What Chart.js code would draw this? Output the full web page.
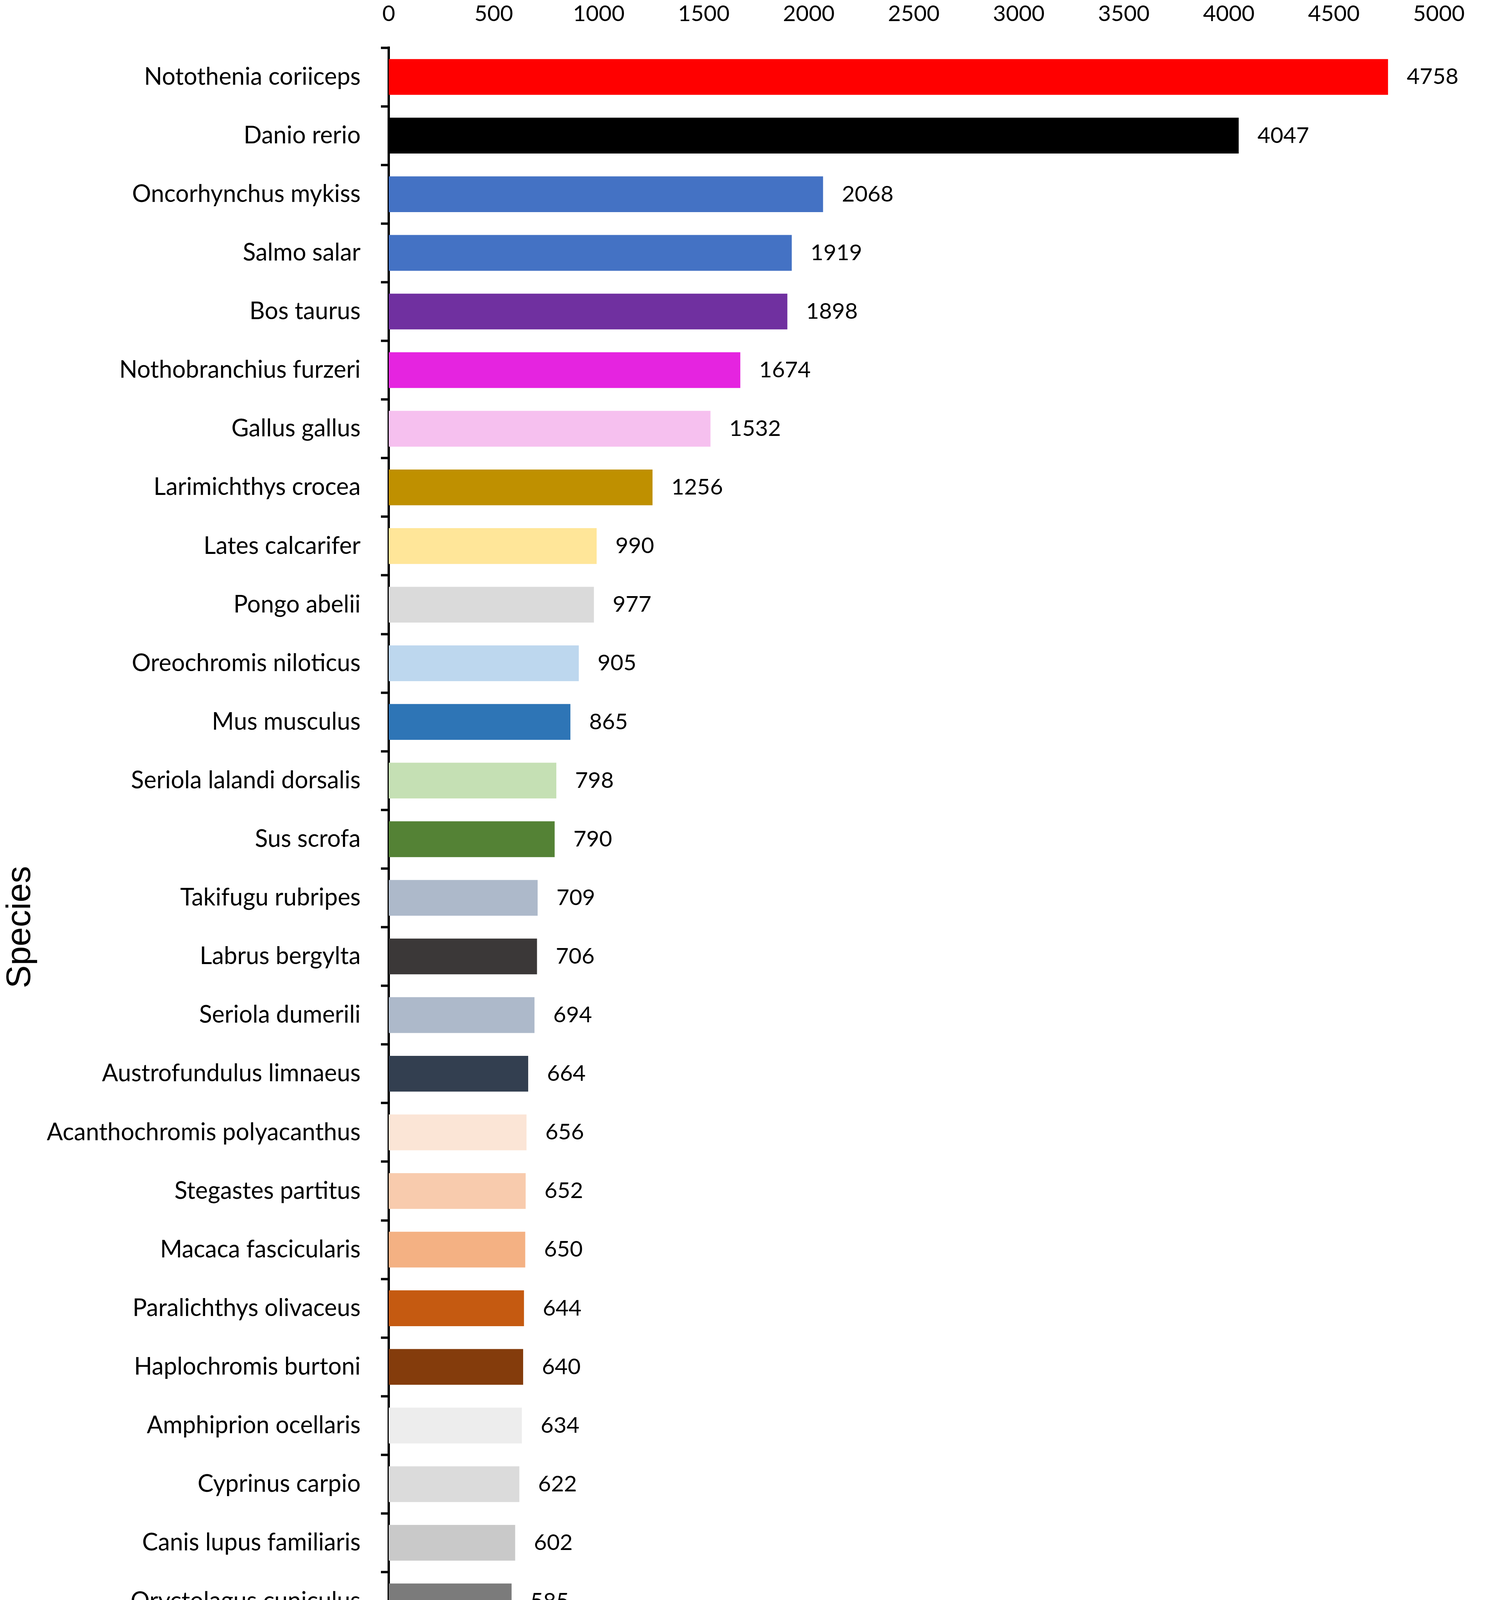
<!DOCTYPE html>
<html>
<head>
<meta charset="utf-8">
<script src="https://cdn.jsdelivr.net/npm/chart.js@4.4.1/dist/chart.umd.min.js"></script>
<style>
  html, body { margin: 0; padding: 0; background: #ffffff; overflow: hidden; }
  #wrap { width: 3801px; height: 4795px; position: relative; }
</style>
</head>
<body>
<div id="wrap"><canvas id="hits"></canvas></div>
<script>
// ---- data ----
const species = [
  'Notothenia coriiceps', 'Danio rerio', 'Oncorhynchus mykiss', 'Salmo salar',
  'Bos taurus', 'Nothobranchius furzeri', 'Gallus gallus', 'Larimichthys crocea',
  'Lates calcarifer', 'Pongo abelii', 'Oreochromis niloticus', 'Mus musculus',
  'Seriola lalandi dorsalis', 'Sus scrofa', 'Takifugu rubripes', 'Labrus bergylta',
  'Seriola dumerili', 'Austrofundulus limnaeus', 'Acanthochromis polyacanthus',
  'Stegastes partitus', 'Macaca fascicularis', 'Paralichthys olivaceus',
  'Haplochromis burtoni', 'Amphiprion ocellaris', 'Cyprinus carpio',
  'Canis lupus familiaris', 'Oryctolagus cuniculus', 'Pan troglodytes',
  'Oryzias latipes', 'Tetraodon nigroviridis'
];
const hits = [
  4758, 4047, 2068, 1919, 1898, 1674, 1532, 1256, 990, 977,
  905, 865, 798, 790, 709, 706, 694, 664, 656, 652,
  650, 644, 640, 634, 622, 602, 585, 506, 136, 118
];
const barColors = [
  '#ff0000', '#000000', '#4472c4', '#4472c4', '#7030a0', '#e524e0', '#f6c0ef', '#bf9000',
  '#ffe699', '#dadada', '#bdd7ee', '#2e75b6', '#c5e0b4', '#548235', '#adb9ca', '#3b3838',
  '#adb9ca', '#333f50', '#fbe5d6', '#f8cbad', '#f4b183', '#c55a11', '#843c0c', '#ededed',
  '#dbdbdb', '#c9c9c9', '#7b7b7b', '#525252', '#fff2cc', '#ffe699'
];
const xTicks = [0, 500, 1000, 1500, 2000, 2500, 3000, 3500, 4000, 4500, 5000];

const nameFont = { family: 'Lato', size: 61 };
const numFont = { family: 'Lato', size: 57 };

// value labels to the right of each bar
const valueLabels = {
  id: 'valueLabels',
  afterDatasetsDraw(chart) {
    const ctx = chart.ctx;
    const meta = chart.getDatasetMeta(0);
    ctx.save();
    ctx.font = `${numFont.size}px ${numFont.family}`;
    ctx.fillStyle = '#000';
    ctx.textAlign = 'left';
    ctx.textBaseline = 'middle';
    meta.data.forEach((bar, i) => {
      ctx.fillText(String(hits[i]), bar.x + 48, bar.y);
    });
    ctx.restore();
  }
};

// x axis caption under the plot (sits a bit left of the plot centre, as in the original)
const bottomCaption = {
  id: 'bottomCaption',
  afterDraw(chart) {
    const { ctx, chartArea: a } = chart;
    ctx.save();
    ctx.font = '88px Lato';
    ctx.fillStyle = '#000';
    ctx.textAlign = 'center';
    ctx.textBaseline = 'middle';
    ctx.fillText('Number of Hit', a.left + (a.right - a.left) * 0.371, a.bottom + 105);
    ctx.restore();
  }
};

new Chart(document.getElementById('hits'), {
  type: 'bar',
  data: {
    labels: species,
    datasets: [{
      data: hits,
      backgroundColor: barColors,
      borderWidth: 0,
      categoryPercentage: 0.61,
      barPercentage: 1
    }]
  },
  plugins: [valueLabels, bottomCaption],
  options: {
    indexAxis: 'y',
    responsive: true, maintainAspectRatio: false,
    animation: false,
    devicePixelRatio: 1,
    layout: { padding: { left: 0, right: 81, top: 0, bottom: 170 } },
    plugins: {
      legend: { display: false },
      tooltip: { enabled: false }
    },
    scales: {
      x: {
        position: 'top',
        min: 0, max: 5000,
        afterBuildTicks: s => { s.ticks = xTicks.map(v => ({ value: v })); },
        afterFit: s => { s.height = 122; },
        grid: { display: false, drawTicks: false },
        border: { display: false },
        ticks: { color: '#000', font: numFont, padding: 52, maxRotation: 0, callback: v => String(v) }
      },
      y: {
        afterFit: s => { s.width = 995; },
        grid: {
          drawOnChartArea: false, drawTicks: true,
          tickLength: 20, tickWidth: 6, tickColor: '#000'
        },
        border: { display: true, color: '#000', width: 6 },
        ticks: { color: '#000', font: nameFont, padding: 52, autoSkip: false },
        title: {
          display: true, text: 'Species', color: '#000',
          font: { family: 'Liberation Sans', size: 88 },
          padding: 0
        }
      }
    }
  }
});
</script>
</body>
</html>
